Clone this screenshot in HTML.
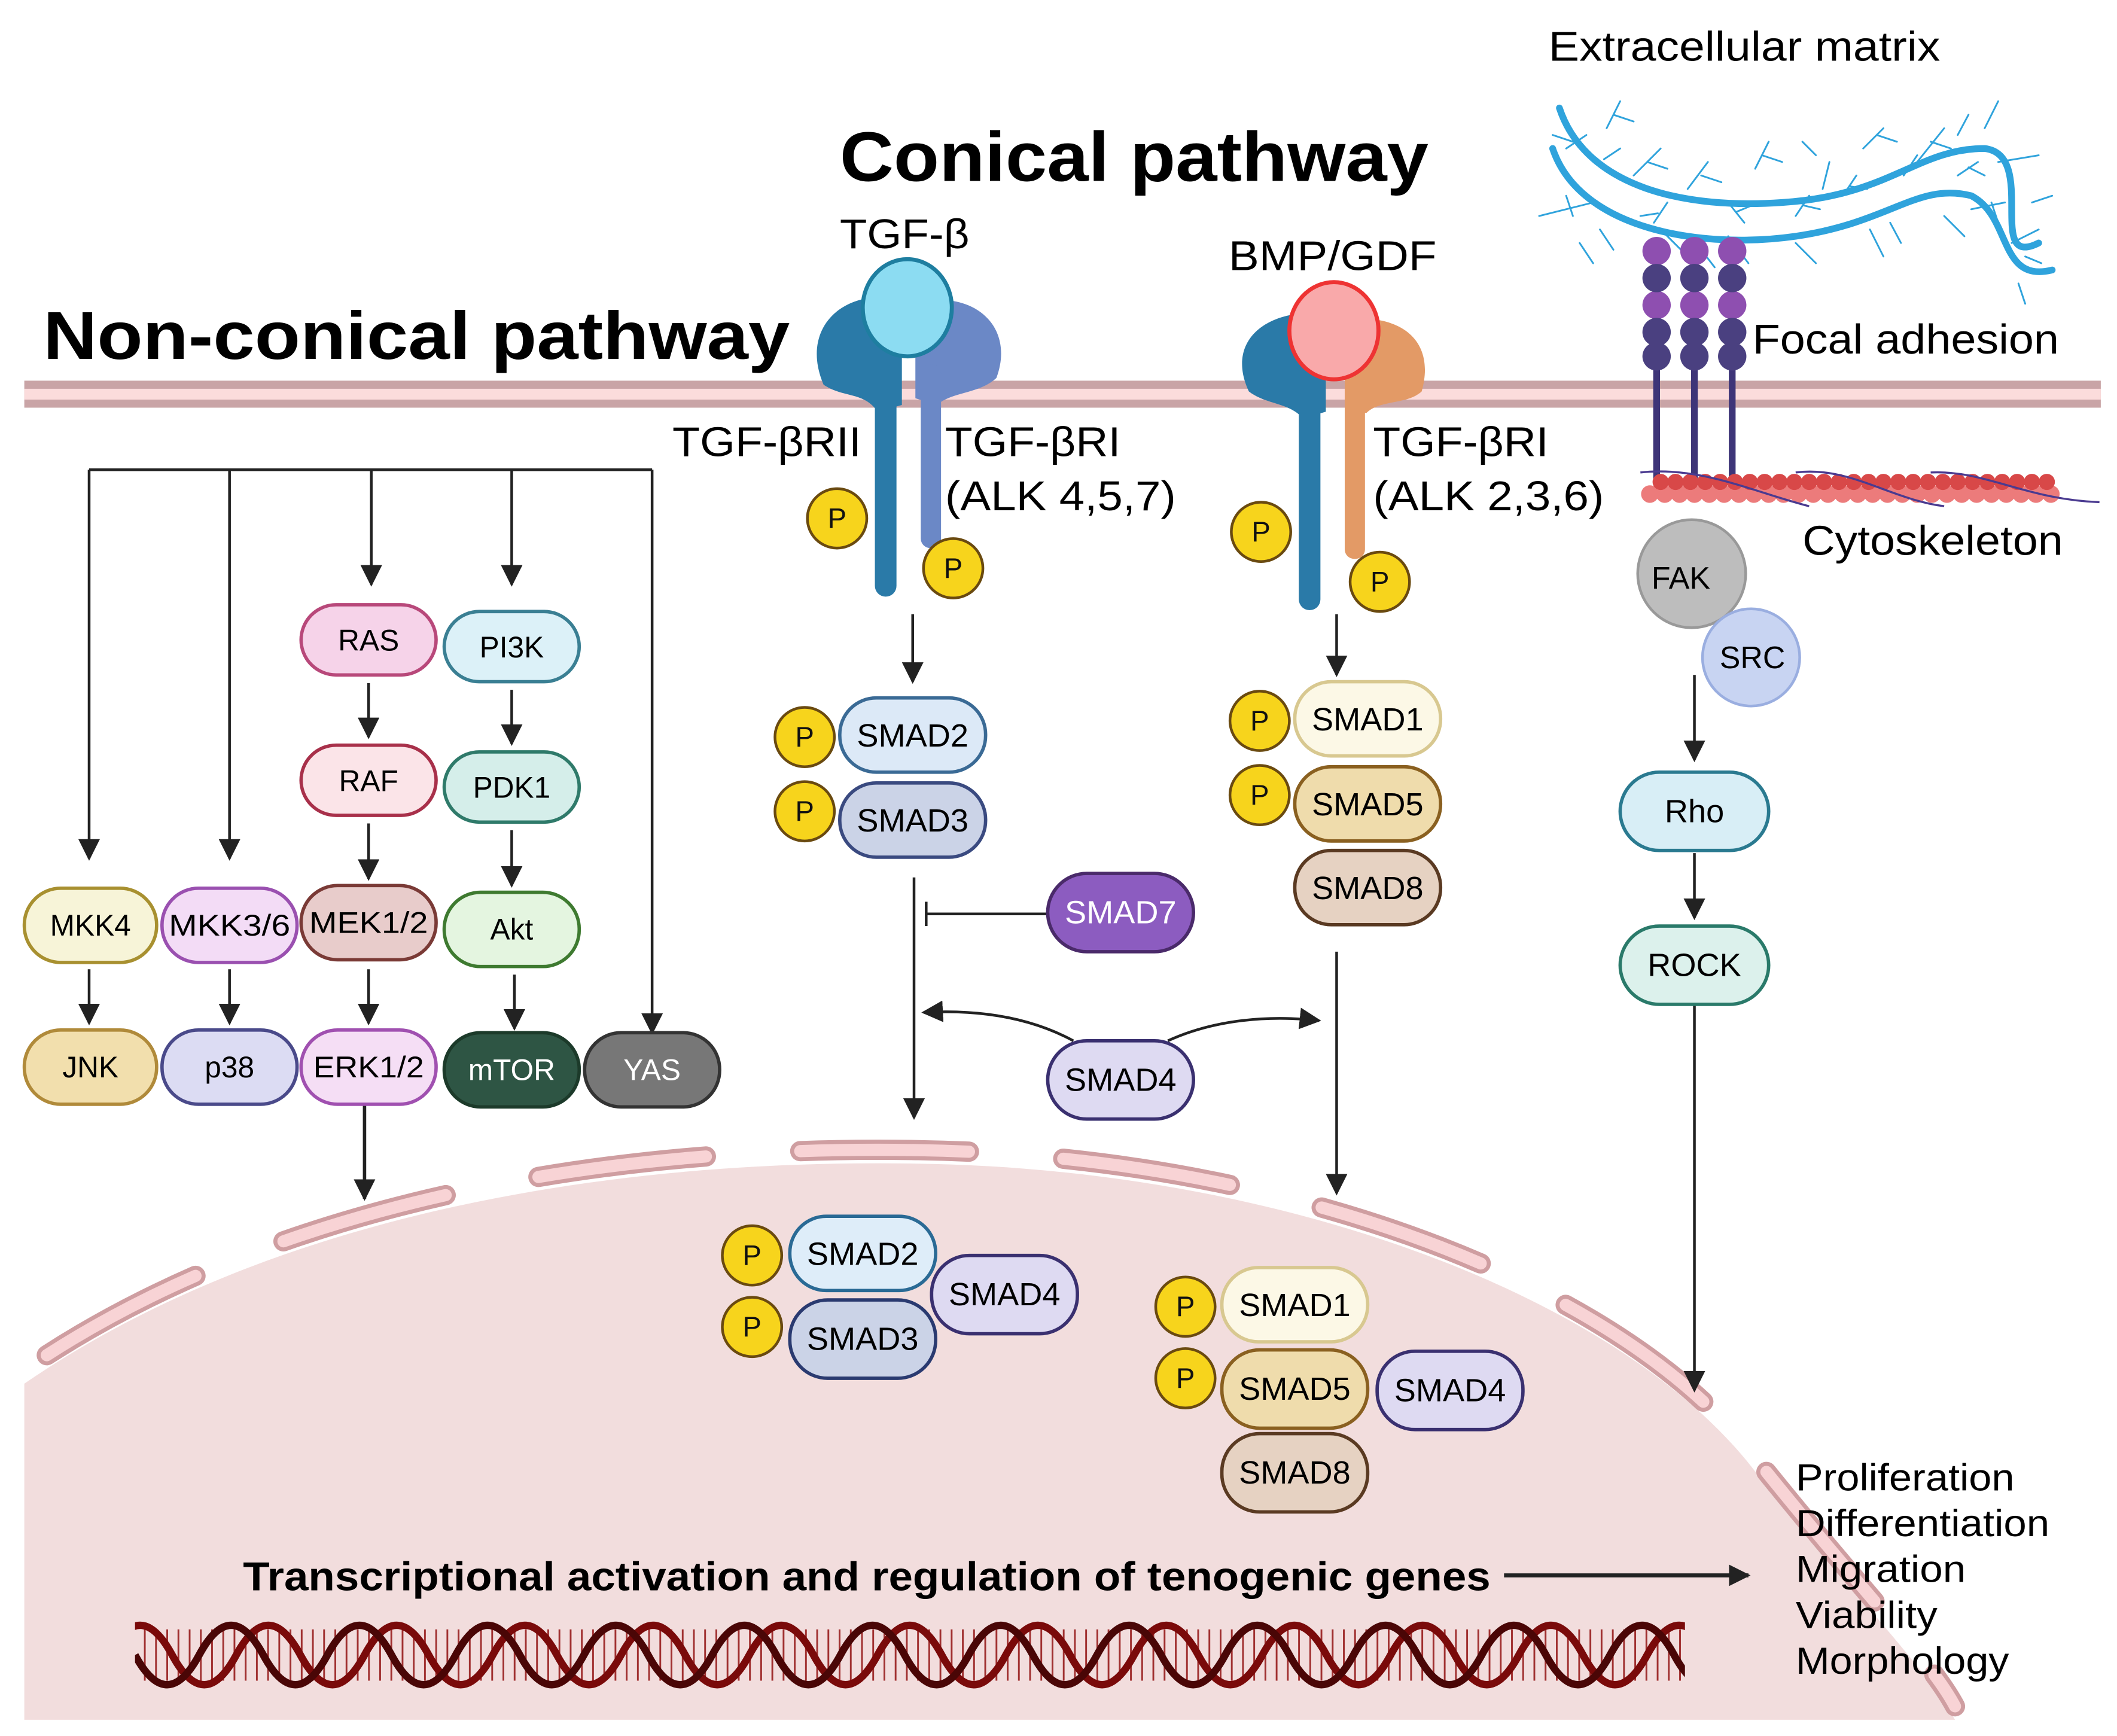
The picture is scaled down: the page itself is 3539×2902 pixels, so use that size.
<!DOCTYPE html>
<html><head><meta charset="utf-8">
<style>
html,body{margin:0;padding:0;background:#fff;}
svg{display:block;}
text{font-family:"Liberation Sans",Arial,sans-serif;}
</style></head>
<body>
<svg width="3539" height="2902" viewBox="0 0 1568 1286" preserveAspectRatio="none" xmlns="http://www.w3.org/2000/svg">
<defs>
<marker id="ah2" viewBox="0 0 10 10" refX="9" refY="5" markerWidth="16" markerHeight="16" orient="auto" markerUnits="userSpaceOnUse">
<path d="M0,0 L10,5 L0,10 Z" fill="#222"/></marker>
</defs>

<!-- Nucleus -->
<path d="M18,1025 C200,900 450,858 680,862 C950,866 1200,960 1300,1090 C1380,1190 1430,1240 1448,1274 L18,1274 Z" fill="#f2dddd"/>
<path d="M18,1025 C200,900 450,858 680,862 C950,866 1200,960 1300,1090 C1380,1190 1430,1240 1448,1274" fill="none" stroke="#cf9ea1" stroke-width="15" stroke-dasharray="125 70" stroke-dashoffset="-20" stroke-linecap="round" transform="translate(0,-10)"/>
<path d="M18,1025 C200,900 450,858 680,862 C950,866 1200,960 1300,1090 C1380,1190 1430,1240 1448,1274" fill="none" stroke="#f8d3d5" stroke-width="9" stroke-dasharray="125 70" stroke-dashoffset="-20" stroke-linecap="round" transform="translate(0,-10)"/>

<!-- Membrane -->
<rect x="18" y="282" width="1538" height="20" fill="#c9a4a6"/>
<rect x="18" y="288" width="1538" height="8" fill="#fbdcdc"/>

<!-- Titles -->
<text x="622" y="134" font-size="52" font-weight="bold" textLength="436" lengthAdjust="spacingAndGlyphs">Conical pathway</text>
<text x="32" y="266" font-size="50" font-weight="bold" textLength="553" lengthAdjust="spacingAndGlyphs">Non-conical pathway</text>
<text x="622" y="184" font-size="31" textLength="96" lengthAdjust="spacingAndGlyphs">TGF-β</text>
<text x="910" y="200" font-size="31" textLength="154" lengthAdjust="spacingAndGlyphs">BMP/GDF</text>
<text x="1147" y="45" font-size="31" textLength="290" lengthAdjust="spacingAndGlyphs">Extracellular matrix</text>
<text x="1298" y="262" font-size="31" textLength="227" lengthAdjust="spacingAndGlyphs">Focal adhesion</text>
<text x="1335" y="411" font-size="31" textLength="193" lengthAdjust="spacingAndGlyphs">Cytoskeleton</text>
<text x="498" y="338" font-size="31" textLength="140" lengthAdjust="spacingAndGlyphs">TGF-βRII</text>
<text x="700" y="338" font-size="31" textLength="130" lengthAdjust="spacingAndGlyphs">TGF-βRI</text>
<text x="700" y="378" font-size="31" textLength="171" lengthAdjust="spacingAndGlyphs">(ALK 4,5,7)</text>
<text x="1017" y="338" font-size="31" textLength="130" lengthAdjust="spacingAndGlyphs">TGF-βRI</text>
<text x="1017" y="378" font-size="31" textLength="171" lengthAdjust="spacingAndGlyphs">(ALK 2,3,6)</text>

<!-- TGF receptor -->
<path d="M610,285 C595,250 615,222 650,220 L668,240 L668,300 L650,305 C640,290 625,295 610,285Z" fill="#2a7aa8"/>
<rect x="648" y="270" width="16" height="172" rx="8" fill="#2a7aa8"/>
<path d="M738,280 C750,248 730,222 695,222 L678,240 L678,295 L694,300 C705,290 725,292 738,280Z" fill="#6b88c6"/>
<rect x="682" y="270" width="15" height="136" rx="7" fill="#6b88c6"/>
<ellipse cx="672" cy="228" rx="33" ry="36" fill="#8cdcf2" stroke="#1e7ea0" stroke-width="3"/>
<!-- BMP receptor -->
<path d="M925,290 C910,258 930,235 965,232 L982,252 L982,305 L965,310 C955,298 938,300 925,290Z" fill="#2a7aa8"/>
<rect x="962" y="280" width="16" height="172" rx="8" fill="#2a7aa8"/>
<path d="M1053,290 C1062,258 1045,238 1012,236 L996,252 L996,302 L1012,306 C1022,296 1042,300 1053,290Z" fill="#e39a66"/>
<rect x="996" y="280" width="15" height="134" rx="7" fill="#e39a66"/>
<ellipse cx="988" cy="245" rx="33" ry="36" fill="#f9a9aa" stroke="#ee3333" stroke-width="3"/>

<!-- P circles -->
<g fill="#f7d41c" stroke="#6a4a10" stroke-width="2">
<circle cx="620" cy="384" r="22"/><circle cx="706" cy="421" r="22"/>
<circle cx="934" cy="394" r="22"/><circle cx="1022" cy="431" r="22"/>
<circle cx="596" cy="546" r="22"/><circle cx="596" cy="601" r="22"/>
<circle cx="933" cy="534" r="22"/><circle cx="933" cy="589" r="22"/>
<circle cx="557" cy="930" r="22"/><circle cx="557" cy="983" r="22"/>
<circle cx="878" cy="968" r="22"/><circle cx="878" cy="1021" r="22"/>
</g>
<g font-size="21" text-anchor="middle" fill="#111">
<text x="620" y="391">P</text><text x="706" y="428">P</text>
<text x="934" y="401">P</text><text x="1022" y="438">P</text>
<text x="596" y="553">P</text><text x="596" y="608">P</text>
<text x="933" y="541">P</text><text x="933" y="596">P</text>
<text x="557" y="937">P</text><text x="557" y="990">P</text>
<text x="878" y="975">P</text><text x="878" y="1028">P</text>
</g>

<!-- connectors -->
<g stroke="#222" stroke-width="2" fill="none">
<path d="M66,348 L483,348"/>
<path d="M66,348 L66,636" marker-end="url(#ah2)"/>
<path d="M170,348 L170,636" marker-end="url(#ah2)"/>
<path d="M275,348 L275,433" marker-end="url(#ah2)"/>
<path d="M379,348 L379,433" marker-end="url(#ah2)"/>
<path d="M483,348 L483,765" marker-end="url(#ah2)"/>
<path d="M273,506 L273,546" marker-end="url(#ah2)"/>
<path d="M379,511 L379,551" marker-end="url(#ah2)"/>
<path d="M273,610 L273,651" marker-end="url(#ah2)"/>
<path d="M379,615 L379,656" marker-end="url(#ah2)"/>
<path d="M66,718 L66,758" marker-end="url(#ah2)"/>
<path d="M170,718 L170,758" marker-end="url(#ah2)"/>
<path d="M273,718 L273,758" marker-end="url(#ah2)"/>
<path d="M381,722 L381,762" marker-end="url(#ah2)"/>
<path d="M270,818 L270,888" stroke-width="2.5" marker-end="url(#ah2)"/>
<path d="M676,455 L676,505" marker-end="url(#ah2)"/>
<path d="M990,455 L990,500" marker-end="url(#ah2)"/>
<path d="M677,650 L677,828" marker-end="url(#ah2)"/>
<path d="M778,677 L686,677"/><path d="M686,668 L686,686"/>
<path d="M990,705 L990,884" marker-end="url(#ah2)"/>
<path d="M795,771 C760,752 720,748 684,750" marker-end="url(#ah2)"/>
<path d="M865,771 C900,755 940,752 977,756" marker-end="url(#ah2)"/>
<path d="M1255,500 L1255,563" marker-end="url(#ah2)"/>
<path d="M1255,632 L1255,680" marker-end="url(#ah2)"/>
<path d="M1255,745 L1255,1030" marker-end="url(#ah2)"/>
<path d="M1114,1167 L1295,1167" stroke-width="3" marker-end="url(#ah2)"/>
</g>

<!-- Pills -->
<g stroke-width="2.5" text-anchor="middle">
<g font-size="22">
<rect x="223" y="448" width="100" height="52" rx="26" fill="#f6d3e9" stroke="#b8487a"/><text x="273" y="482">RAS</text>
<rect x="329" y="453" width="100" height="52" rx="26" fill="#dcf1f8" stroke="#3a7f93"/><text x="379" y="487">PI3K</text>
<rect x="223" y="552" width="100" height="52" rx="26" fill="#fbe4e8" stroke="#a8304a"/><text x="273" y="586">RAF</text>
<rect x="329" y="557" width="100" height="52" rx="26" fill="#d5eeea" stroke="#2f7a6a"/><text x="379" y="591">PDK1</text>
<rect x="18" y="658" width="98" height="55" rx="27" fill="#f7f4d8" stroke="#a89030"/><text x="67" y="693">MKK4</text>
<rect x="120" y="658" width="100" height="55" rx="27" fill="#f3dcf6" stroke="#9a50b0"/><text x="170" y="693" textLength="90" lengthAdjust="spacingAndGlyphs">MKK3/6</text>
<rect x="223" y="656" width="100" height="55" rx="27" fill="#e8cccb" stroke="#7a3a36"/><text x="273" y="691" textLength="88" lengthAdjust="spacingAndGlyphs">MEK1/2</text>
<rect x="329" y="661" width="100" height="55" rx="27" fill="#e4f5e0" stroke="#3e7a30"/><text x="379" y="696">Akt</text>
<rect x="18" y="763" width="98" height="55" rx="27" fill="#f2dfad" stroke="#b08a3a"/><text x="67" y="798">JNK</text>
<rect x="120" y="763" width="100" height="55" rx="27" fill="#dcdcf3" stroke="#4a4a8a"/><text x="170" y="798">p38</text>
<rect x="223" y="763" width="100" height="55" rx="27" fill="#f5def5" stroke="#a050b0"/><text x="273" y="798" textLength="82" lengthAdjust="spacingAndGlyphs">ERK1/2</text>
<rect x="329" y="765" width="100" height="55" rx="27" fill="#2e5544" stroke="#1c3a2a"/><text x="379" y="800" fill="#fff">mTOR</text>
<rect x="433" y="765" width="100" height="55" rx="27" fill="#777" stroke="#333"/><text x="483" y="800" fill="#fff">YAS</text>
</g>
<g font-size="24">
<rect x="622" y="517" width="108" height="55" rx="27" fill="#dce9f7" stroke="#3a6a95"/><text x="676" y="553">SMAD2</text>
<rect x="622" y="580" width="108" height="55" rx="27" fill="#cbd3e7" stroke="#3a4a80"/><text x="676" y="616">SMAD3</text>
<rect x="959" y="505" width="108" height="55" rx="27" fill="#fcf8e6" stroke="#d8c890"/><text x="1013" y="541">SMAD1</text>
<rect x="959" y="568" width="108" height="55" rx="27" fill="#efdcac" stroke="#8a6020"/><text x="1013" y="604">SMAD5</text>
<rect x="959" y="630" width="108" height="55" rx="27" fill="#e6d2c2" stroke="#5a3a22"/><text x="1013" y="666">SMAD8</text>
<rect x="776" y="647" width="108" height="58" rx="29" fill="#8c5cc0" stroke="#4a2a6a"/><text x="830" y="684" fill="#fff">SMAD7</text>
<rect x="776" y="771" width="108" height="58" rx="29" fill="#dedaf2" stroke="#3a3070"/><text x="830" y="808">SMAD4</text>
<rect x="585" y="901" width="108" height="55" rx="27" fill="#deedf9" stroke="#2a6a95"/><text x="639" y="937">SMAD2</text>
<rect x="585" y="963" width="108" height="58" rx="28" fill="#cbd3e7" stroke="#2a3a70"/><text x="639" y="1000">SMAD3</text>
<rect x="690" y="930" width="108" height="58" rx="28" fill="#dedaf2" stroke="#3a3070"/><text x="744" y="967">SMAD4</text>
<rect x="905" y="939" width="108" height="55" rx="27" fill="#fcf8e6" stroke="#d8c890"/><text x="959" y="975">SMAD1</text>
<rect x="905" y="1000" width="108" height="58" rx="28" fill="#efdcac" stroke="#8a6020"/><text x="959" y="1037">SMAD5</text>
<rect x="1020" y="1001" width="108" height="58" rx="28" fill="#dedaf2" stroke="#3a3070"/><text x="1074" y="1038">SMAD4</text>
<rect x="905" y="1062" width="108" height="58" rx="28" fill="#e6d2c2" stroke="#5a3a22"/><text x="959" y="1099">SMAD8</text>
<rect x="1200" y="572" width="110" height="58" rx="29" fill="#d8eef6" stroke="#2a7a90"/><text x="1255" y="609">Rho</text>
<rect x="1200" y="686" width="110" height="58" rx="29" fill="#dcf1ec" stroke="#2a7a6a"/><text x="1255" y="723">ROCK</text>
</g>
</g>

<!-- FAK / SRC -->
<circle cx="1253" cy="425" r="40" fill="#bdbdbd" stroke="#999" stroke-width="2"/>
<text x="1245" y="436" font-size="23" text-anchor="middle">FAK</text>
<circle cx="1297" cy="487" r="36" fill="#c8d4f2" stroke="#9aaee0" stroke-width="2"/>
<text x="1298" y="495" font-size="23" text-anchor="middle">SRC</text>

<!-- ECM -->
<g fill="none" stroke="#2fa3dc" stroke-linecap="round">
<path d="M1155,80 C1175,140 1250,155 1320,150 C1400,145 1420,110 1470,110 C1510,115 1470,200 1510,180" stroke-width="5"/>
<path d="M1150,110 C1170,170 1260,185 1330,175 C1400,165 1420,135 1460,145 C1490,160 1480,210 1520,200" stroke-width="5"/>
<g stroke-width="1.3">
<path d="M1140,160 L1180,150 M1160,145 L1165,160 M1190,95 L1200,75 M1195,85 L1210,90 M1210,130 L1230,110 M1220,120 L1235,125 M1250,140 L1265,120 M1260,130 L1275,135 M1300,125 L1310,105 M1305,115 L1320,120 M1350,140 L1355,120 M1380,110 L1395,95 M1390,100 L1405,105 M1420,120 L1440,95 M1430,105 L1445,110 M1460,155 L1485,150 M1475,150 L1480,165 M1490,180 L1510,170 M1495,210 L1500,225 M1230,170 L1250,190 M1280,175 L1295,195 M1330,180 L1345,195 M1385,170 L1395,190 M1440,160 L1455,175 M1170,180 L1180,195 M1470,95 L1480,75 M1480,120 L1510,115"/>
<path d="M1175,100 L1160,110 M1165,105 L1150,100 M1235,150 L1225,165 M1228,158 L1215,160 M1280,150 L1292,165 M1286,157 L1298,152 M1330,160 L1340,145 M1335,152 L1348,155 M1365,145 L1375,130 M1370,138 L1383,140 M1410,130 L1420,115 M1450,130 L1465,120 M1458,124 L1470,130 M1500,190 L1512,195 M1505,150 L1520,145 M1185,170 L1195,185 M1260,185 L1270,198 M1400,165 L1408,180 M1200,110 L1188,118 M1450,100 L1458,85 M1345,115 L1335,105"/>
</g>
</g>

<!-- Integrins -->
<g stroke="#3e3578" stroke-width="5">
<line x1="1227" y1="265" x2="1227" y2="358"/><line x1="1255" y1="265" x2="1255" y2="358"/><line x1="1283" y1="265" x2="1283" y2="358"/>
</g>
<g fill="#8e4fb0"><circle cx="1227" cy="186" r="10.5"/><circle cx="1255" cy="186" r="10.5"/><circle cx="1283" cy="186" r="10.5"/>
<circle cx="1227" cy="226" r="10.5"/><circle cx="1255" cy="226" r="10.5"/><circle cx="1283" cy="226" r="10.5"/></g>
<g fill="#4a4080"><circle cx="1227" cy="206" r="10.5"/><circle cx="1255" cy="206" r="10.5"/><circle cx="1283" cy="206" r="10.5"/>
<circle cx="1227" cy="246" r="10.5"/><circle cx="1255" cy="246" r="10.5"/><circle cx="1283" cy="246" r="10.5"/>
<circle cx="1227" cy="264" r="10.5"/><circle cx="1255" cy="264" r="10.5"/><circle cx="1283" cy="264" r="10.5"/></g>

<!-- Cytoskeleton -->
<line x1="1222" y1="366" x2="1525" y2="366" stroke="#ec7b7b" stroke-width="13" stroke-linecap="round" stroke-dasharray="0 11"/>
<line x1="1230" y1="357" x2="1520" y2="357" stroke="#d84848" stroke-width="12" stroke-linecap="round" stroke-dasharray="0 11"/>
<path d="M1215,350 C1260,345 1300,365 1340,375 M1330,350 C1370,345 1400,370 1440,375 M1430,350 C1470,348 1500,370 1555,372" stroke="#4a3a90" stroke-width="1.5" fill="none"/>

<!-- Bottom text -->
<text x="180" y="1178" font-size="30" font-weight="bold" textLength="924" lengthAdjust="spacingAndGlyphs">Transcriptional activation and regulation of tenogenic genes</text>
<g font-size="28">
<text x="1330" y="1104" textLength="162" lengthAdjust="spacingAndGlyphs">Proliferation</text>
<text x="1330" y="1138" textLength="188" lengthAdjust="spacingAndGlyphs">Differentiation</text>
<text x="1330" y="1172" textLength="126" lengthAdjust="spacingAndGlyphs">Migration</text>
<text x="1330" y="1206" textLength="105" lengthAdjust="spacingAndGlyphs">Viability</text>
<text x="1330" y="1240" textLength="158" lengthAdjust="spacingAndGlyphs">Morphology</text>
</g>

<!-- DNA -->
<clipPath id="dc"><rect x="100" y="1190" width="1148" height="70"/></clipPath>
<g clip-path="url(#dc)" fill="none">
<line x1="90" y1="1226" x2="1260" y2="1226" stroke="#a03030" stroke-width="38" stroke-dasharray="1.3 7"/>
<path d="M80,1226 q23.75,-44 47.5,0 t47.5,0 t47.5,0 t47.5,0 t47.5,0 t47.5,0 t47.5,0 t47.5,0 t47.5,0 t47.5,0 t47.5,0 t47.5,0 t47.5,0 t47.5,0 t47.5,0 t47.5,0 t47.5,0 t47.5,0 t47.5,0 t47.5,0 t47.5,0 t47.5,0 t47.5,0 t47.5,0 t47.5,0 t47.5,0" stroke="#7a0a0a" stroke-width="5.5"/>
<path d="M100,1226 q23.75,44 47.5,0 t47.5,0 t47.5,0 t47.5,0 t47.5,0 t47.5,0 t47.5,0 t47.5,0 t47.5,0 t47.5,0 t47.5,0 t47.5,0 t47.5,0 t47.5,0 t47.5,0 t47.5,0 t47.5,0 t47.5,0 t47.5,0 t47.5,0 t47.5,0 t47.5,0 t47.5,0 t47.5,0 t47.5,0 t47.5,0" stroke="#4a0606" stroke-width="5.5"/>
</g>
</svg>
</body></html>
